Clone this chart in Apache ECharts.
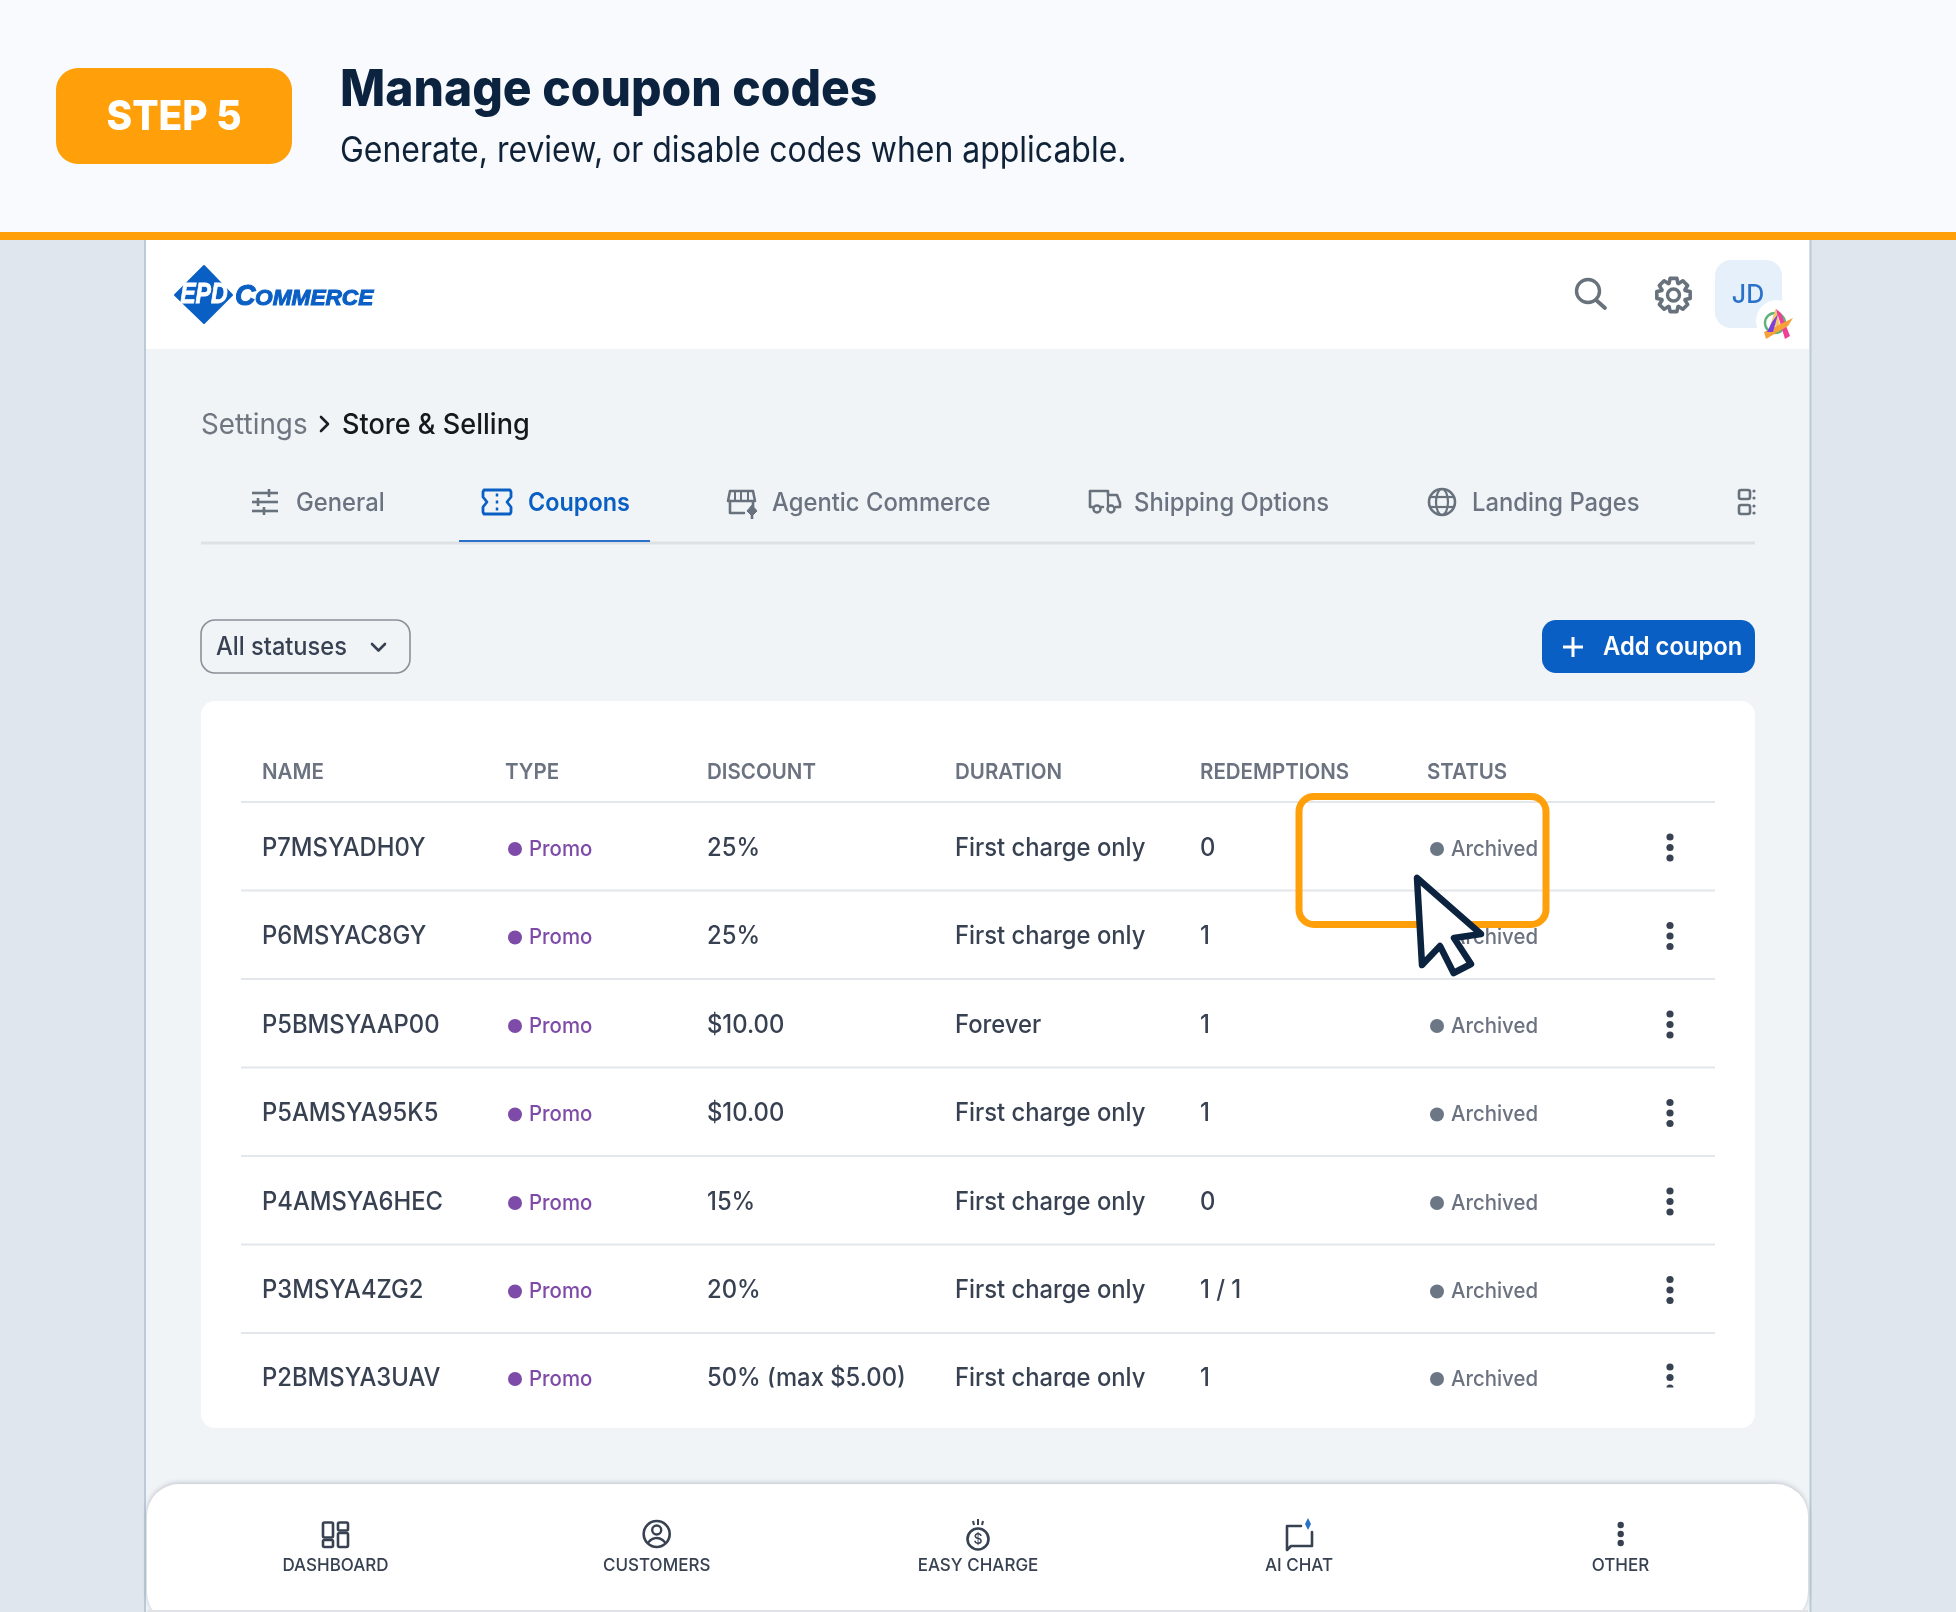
<!DOCTYPE html>
<html><head><meta charset="utf-8">
<style>html,body{margin:0;padding:0;background:#dfe6ed}#c{width:1956px;height:1612px}</style>
<script src="https://cdn.jsdelivr.net/npm/echarts@6/dist/echarts.min.js"></script>
</head><body><div id="c"></div>
<script>
const stepLabel = 'STEP 5';
const title = 'Manage coupon codes';
const subtitle = 'Generate, review, or disable codes when applicable.';
const tabs = ['General','Coupons','Agentic Commerce','Shipping Options','Landing Pages'];
const columns = ['NAME','TYPE','DISCOUNT','DURATION','REDEMPTIONS','STATUS'];
const names = ['P7MSYADH0Y','P6MSYAC8GY','P5BMSYAAP00','P5AMSYA95K5','P4AMSYA6HEC','P3MSYA4ZG2','P2BMSYA3UAV'];
const types = ['Promo','Promo','Promo','Promo','Promo','Promo','Promo'];
const discounts = ['25%','25%','$10.00','$10.00','15%','20%','50% (max $5.00)'];
const durations = ['First charge only','First charge only','Forever','First charge only','First charge only','First charge only','First charge only'];
const redemptions = ['0','1','1','1','0','1 / 1','1'];
const statuses = ['Archived','Archived','Archived','Archived','Archived','Archived','Archived'];
const navItems = ['DASHBOARD','CUSTOMERS','EASY CHARGE','AI CHAT','OTHER'];

const F='Inter, "Noto Sans", sans-serif';
const els=[];
const R=(x,y,w,h,fill,r,stroke,lw,extra)=>els.push({type:'rect',shape:{x,y,width:w,height:h,r:r||0},style:Object.assign({fill:fill||'transparent',stroke:stroke||null,lineWidth:lw||0},extra||{}),silent:true});
const T=(text,x,y,size,color,weight,align,o)=>{o=o||{};els.push({type:'text',x,y,scaleX:o.sx||1,scaleY:o.sy||1,silent:true,style:{text,x:0,y:0,fill:color,stroke:o.stroke||null,lineWidth:o.lw||0,font:`${o.italic?'italic ':''}${weight||400} ${size}px ${o.family||F}`,align:align||'left',textAlign:align||'left',verticalAlign:'middle',textVerticalAlign:'middle'}});};
const L=(x1,y1,x2,y2,c,lw,cap)=>els.push({type:'line',shape:{x1,y1,x2,y2},style:{stroke:c,lineWidth:lw,lineCap:cap||'butt'},silent:true});
const C=(cx,cy,r,fill,stroke,lw)=>els.push({type:'circle',shape:{cx,cy,r},style:{fill:fill||'transparent',stroke:stroke||null,lineWidth:lw||0},silent:true});
const PL=(points,c,lw)=>els.push({type:'polyline',shape:{points},style:{stroke:c,lineWidth:lw,fill:'transparent',lineCap:'round',lineJoin:'round'},silent:true});
const PG=(points,fill,c,lw)=>els.push({type:'polygon',shape:{points},style:{fill:fill||'transparent',stroke:c||null,lineWidth:lw||0,lineJoin:'round'},silent:true});
const ARC=(cx,cy,r,a0,a1,c,lw)=>els.push({type:'arc',shape:{cx,cy,r,startAngle:a0,endAngle:a1},style:{stroke:c,lineWidth:lw,fill:'transparent',lineCap:'round'},silent:true});

// page frame
R(0,0,1956,1612,'#dfe6ed');
R(146,240,1664,1372,'#f0f4f7');
L(145,240,145,1612,'#bccad8',2); L(1810.5,240,1810.5,1612,'#bccad8',2);
R(146,240,1663,109,'#ffffff');
R(0,0,1956,232,'#f8fafd');
R(0,232,1956,8,'#ff9f0a');

// step header
R(56,68,236,96,'#ff9f0a',22);
T(stepLabel,174,118,41,'#ffffff',800,'center',{sx:.95});
T(title,340,91,50.5,'#0c2340',800,'left',{sx:.95});
T(subtitle,340,151.5,35.5,'#0f2238',400,'left',{sx:.9});

// logo
PG([[204,266],[232,295],[204,323],[175,295]],'#0a5fc4','#0a5fc4',2);
T('EPD',204,295,29,'#ffffff',800,'center',{italic:true,sx:.8,family:'"Liberation Sans"',stroke:'#ffffff',lw:.8});
T('C',235,297,30,'#0a5fc4',800,'left',{italic:true,sx:.95,family:'"Liberation Sans"',stroke:'#0a5fc4',lw:1});
T('OMMERCE',255,298.5,22,'#0a5fc4',800,'left',{italic:true,sx:1.03,family:'"Liberation Sans"',stroke:'#0a5fc4',lw:1});

// top bar icons
const G='#68727d';
C(1588,291,11.5,null,G,3.4); L(1596,300,1605,308,G,3.8,'round');
(function(){const cx=1673.5,cy=295,pts=[];for(let i=0;i<8;i++){const a=i*Math.PI/4-Math.PI/2;
 pts.push([cx+17*Math.cos(a-.2),cy+17*Math.sin(a-.2)],[cx+17*Math.cos(a+.2),cy+17*Math.sin(a+.2)],[cx+12.5*Math.cos(a+.36),cy+12.5*Math.sin(a+.36)],[cx+12.5*Math.cos(a+.42),cy+12.5*Math.sin(a+.42)]);}
 PG(pts,null,G,3.6); C(cx,cy,6,null,G,3.4);})();
R(1715,260,67,68,'#e5f0fa',16);
T('JD',1748,295,26,'#2a72c9',500,'center',{sx:.96});
C(1777,321,21,'#ffffff');
ARC(1775,323,10,0,Math.PI*2,'#5fb37a',2.4);
PG([[1776,308],[1770,326],[1780,326]],'#f8c66a');
PG([[1776,309],[1781,313],[1790,336],[1785,339]],'#ef3f96');
PG([[1764,332],[1793,318],[1788,326],[1766,339]],'#f6a13a');
PG([[1772,322],[1778,314],[1773,332],[1767,332]],'#7a3fdc');

// breadcrumbs
T('Settings',201,425,28.5,'#6f7680',400,'left',{sx:.977});
PL([[321,417],[328,424],[321,431]],'#1a1f26',2.6);
T('Store & Selling',342,425,28.5,'#15191e',500,'left',{sx:.95});

// tabs
const tabX=[296,528,772,1134,1472];
tabs.forEach((t,i)=>T(t,tabX[i],503,25.6,i===1?'#0a5fc4':'#6b7280',i===1?600:500,'left',{sx:i===1?.915:.93}));
L(201,543,1755,543,'#dde1e5',3);
L(459,541,650,541,'#2a72c9',2);
// general
[493,502,511].forEach(y=>L(252,y,278,y,G,2.6));
L(269,489,269,497,G,2.6);L(258,498,258,506,G,2.6);L(264,507,264,515,G,2.6);
// ticket
const B='#0a5fc4';
PG([[484,490],[510,490],[511,492],[511,497],[507,502],[511,507],[511,512],[510,514],[484,514],[483,512],[483,507],[487,502],[483,497],[483,492]],null,B,2.8);
[495,502,509].forEach(y=>L(497,y-1.5,497,y+1.5,B,2.5));
// store
PL([[730,491],[753,491],[755,501],[728,501],[730,491]],G,2.5);
[735,741,748].forEach(x=>L(x,491,x,500,G,2));
PL([[730,501],[730,513],[744,513]],G,2.6);L(753,501,753,507,G,2.6);
PG([[752,505],[757,511],[752,516],[747,511]],G,G,1);L(752,512,752,519,G,2.6);
// truck
PL([[1103,507],[1090,507],[1090,491],[1108,491],[1108,495],[1117,495],[1120,503],[1120,507],[1116,507]],G,2.6);
C(1097,509,3.5,'#f0f4f7',G,2.4);C(1111,509,3.5,'#f0f4f7',G,2.4);L(1108,495,1108,507,G,2.2);
// globe
C(1442,502,13,null,G,2.6);
els.push({type:'ellipse',shape:{cx:1442,cy:502,rx:6,ry:13},style:{fill:'transparent',stroke:G,lineWidth:2.2},silent:true});
L(1429,497,1455,497,G,2.2);L(1429,507,1455,507,G,2.2);
// more tabs
R(1739,490,11,9,null,2,G,2.6);R(1739,505,11,9,null,2,G,2.6);
[491,498,506,513].forEach(y=>C(1754,y,1.6,G));

// controls
R(201,620,209,53,null,14,'#8a9099',1.6);
T('All statuses',216,647,25,'#374151',500,'left',{sx:.946});
PL([[372,644],[378.5,650.5],[385,644]],'#374151',2.6);
R(1542,620,213,53,'#0a5fc4',14);
L(1563,647,1583,647,'#fff',3);L(1573,637,1573,657,'#fff',3);
T('Add coupon',1603,647,25,'#ffffff',600,'left',{sx:.95});

// table
R(201,701,1554,727,'#ffffff',14);
const colX=[262,505,707,955,1200,1427];
columns.forEach((c,i)=>T(c,colX[i],772,21.6,'#6b7280',600,'left',{sx:.95}));
const rowY=[848,936.5,1025,1113.5,1202,1290.5,1378];
const lineY=[802,890.5,979,1067.5,1156,1244.5,1333];
lineY.forEach(y=>L(241,y,1715,y,'#e3e6ea',2));
const body={sx:.952}, small={sx:.935};
rowY.forEach((y,i)=>{
  T(names[i],262,y,25,'#374151',500,'left',body);
  C(515,y+1,7,'#7e4ba8');
  T(types[i],529,y+1,21.8,'#7e4ba8',500,'left',small);
  T(discounts[i],707,y,25,'#374151',500,'left',body);
  T(durations[i],955,y,25,'#374151',500,'left',body);
  T(redemptions[i],1200,y,25,'#374151',500,'left',body);
  C(1437,y+1,7,'#6c7785');
  T(statuses[i],1451,y+1,21.8,'#6b7280',500,'left',small);
  [-10.5,0,10.5].forEach(d=>C(1670,y+d-.5,3.6,'#374151'));
});
// last row is cut off by the scrolling area
R(240,1387.5,1480,30,'#ffffff');

// highlight + cursor
R(1299,796.5,247,128,null,15,'#ff9f0a',7);
PG([[1417,878],[1422,965],[1440,946],[1453.6,973],[1471,964],[1454,938],[1481,934]],'#ffffff','#0c2340',6.5);

// bottom nav
R(147,1484,1661,140,'#ffffff',32,null,0,{shadowBlur:5,shadowColor:'rgba(60,70,85,.28)',shadowOffsetY:-1});
R(147,1610,1661,2,'#dfe3e8');
const navX=[335.5,656.7,978,1299,1620.5];
navItems.forEach((t,i)=>T(t,navX[i],1566,17.6,'#374151',500,'center',{sx:.966}));
const N='#374151';
R(323,1522.5,10,15,null,1.5,N,2.6);R(338,1522.5,10,8,null,1.5,N,2.6);R(323,1540,10,7,null,1.5,N,2.6);R(338,1533,10,14,null,1.5,N,2.6);
C(656.7,1534,13,null,N,2.6);C(656.7,1530,4.5,null,N,2.4);ARC(656.7,1548,10,Math.PI*1.2,Math.PI*1.8,N,2.4);
C(978,1539,10.5,null,N,2.6);T('$',978,1540,14,N,500,'center');
L(978,1519,978,1525,N,2);L(973,1521,974,1525,N,2);L(983,1521,982,1525,N,2);
PL([[1301,1526],[1287,1526],[1287,1550],[1291,1546],[1312,1546],[1312,1532]],N,2.6);
PG([[1308,1518],[1311,1524],[1308,1530],[1305,1524]],'#2a72c9');
[1525,1534,1543].forEach(y=>C(1620.7,y,3.2,N));

const chart=echarts.init(document.getElementById('c'),null,{width:1956,height:1612});
chart.setOption({animation:false,backgroundColor:'#dfe6ed',graphic:{elements:els}});
</script></body></html>
